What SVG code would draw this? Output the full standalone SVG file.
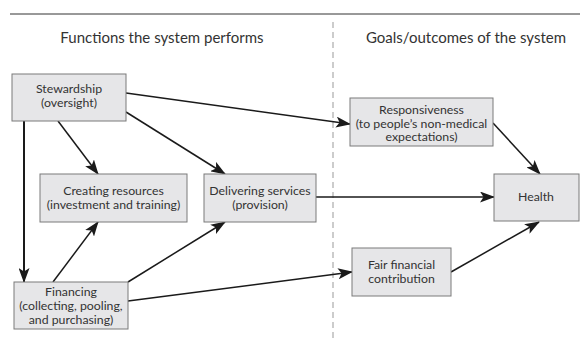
<svg xmlns="http://www.w3.org/2000/svg" width="580" height="362" viewBox="0 0 580 362">
<defs>
<marker id="ah" markerWidth="15" markerHeight="11" refX="14" refY="5.5" orient="auto" markerUnits="userSpaceOnUse">
<path d="M0,0 L15,5.5 L0,11 L3.5,5.5 Z" fill="#1a1a1a"/>
</marker>
<style>
.box{fill:#e6e6e8;stroke:#7a7a7a;stroke-width:1}
.t{font-family:Lato,"Open Sans","Liberation Sans",sans-serif;font-size:12.3px;fill:#333;text-anchor:middle}
.h{font-family:Lato,"Open Sans","Liberation Sans",sans-serif;font-size:15px;fill:#333;text-anchor:middle}
.c{stroke:#1a1a1a;stroke-width:1.5;fill:none;marker-end:url(#ah)}
</style>
</defs>
<rect width="580" height="362" fill="#fff"/>
<line x1="10" y1="14" x2="580" y2="14" stroke="#333" stroke-width="1"/>
<line x1="333" y1="22" x2="333" y2="338" stroke="#999" stroke-width="1" stroke-dasharray="6,4"/>
<text class="h" x="162" y="43">Functions the system performs</text>
<text class="h" x="466" y="43">Goals/outcomes of the system</text>
<g id="connectors">
<line class="c" x1="24" y1="121" x2="24" y2="282" style="stroke-width:2"/>
<line class="c" x1="58" y1="121" x2="98" y2="174"/>
<line class="c" x1="126" y1="112" x2="225" y2="174"/>
<line class="c" x1="126" y1="93" x2="350" y2="124"/>
<line class="c" x1="493" y1="123" x2="540" y2="174"/>
<line class="c" x1="316" y1="197" x2="494" y2="197"/>
<line class="c" x1="53" y1="282" x2="98" y2="222"/>
<line class="c" x1="128" y1="282" x2="225" y2="222"/>
<line class="c" x1="128" y1="301" x2="352" y2="272"/>
<line class="c" x1="451" y1="272" x2="539" y2="222"/>
</g>
<g id="stewardship">
<rect class="box" x="12" y="74" width="114" height="47"/>
<text class="t" x="69" y="93">Stewardship</text>
<text class="t" x="69" y="107">(oversight)</text>
</g>
<g id="creating">
<rect class="box" x="40" y="174" width="147" height="48"/>
<text class="t" x="113.5" y="195">Creating resources</text>
<text class="t" x="113.5" y="209">(investment and training)</text>
</g>
<g id="delivering">
<rect class="box" x="204" y="174" width="112" height="48"/>
<text class="t" x="260" y="195">Delivering services</text>
<text class="t" x="260" y="209">(provision)</text>
</g>
<g id="financing">
<rect class="box" x="14" y="282" width="114" height="47"/>
<text class="t" x="71" y="296">Financing</text>
<text class="t" x="71" y="310">(collecting, pooling,</text>
<text class="t" x="71" y="324">and purchasing)</text>
</g>
<g id="responsiveness">
<rect class="box" x="350" y="98" width="143" height="48"/>
<text class="t" x="421.5" y="114">Responsiveness</text>
<text class="t" x="421.5" y="127.5">(to people’s non-medical</text>
<text class="t" x="421.5" y="141">expectations)</text>
</g>
<g id="health">
<rect class="box" x="494" y="174" width="85" height="47"/>
<text class="t" x="536" y="201">Health</text>
</g>
<g id="fair">
<rect class="box" x="352" y="248" width="99" height="48"/>
<text class="t" x="401.5" y="269">Fair financial</text>
<text class="t" x="401.5" y="283">contribution</text>
</g>
</svg>
